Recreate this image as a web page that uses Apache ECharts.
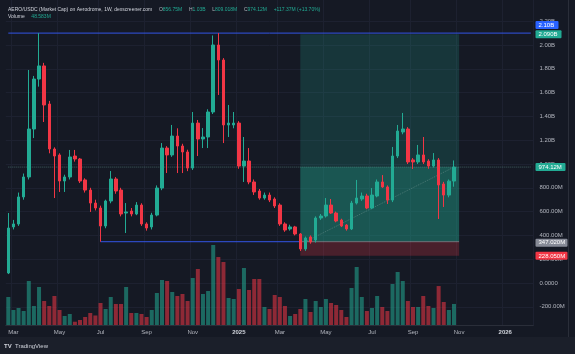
<!DOCTYPE html>
<html><head><meta charset="utf-8">
<script src="https://cdn.jsdelivr.net/npm/echarts@6/dist/echarts.min.js"></script>
<style>html,body{margin:0;padding:0;background:#151924;}#c{width:575px;height:354px;}</style>
</head><body><div id="c"></div>
<script>
// ---------- data (market cap in millions USD, weekly) ----------
const firstWeekUTC = Date.UTC(2024, 1, 26);
const weekCount = 103; // visible weekly slots incl. future space
const openVals = [84,471,496,723,891,1294,1714,1824,1504,1126,
  1076,857,891,1067,1042,866,781,672,630,479,
  689,874,781,588,605,580,655,496,471,571,
  798,1134,1076,1235,1151,1101,966,1344,1210,1227,
  1437,2000,1874,1328,1328,1344,983,1025,849,773,
  714,739,706,655,496,454,471,412,286,387,
  361,546,563,655,588,529,487,454,672,706,
  731,630,731,849,807,697,1067,1269,1294,1034,
  1017,1076,1025,983,1034,832,739,856.75];
const closeVals = [462,496,723,891,1294,1714,1824,1496,1126,1067,
  857,891,1059,1042,857,781,672,630,479,689,
  874,773,580,597,580,655,496,462,571,798,
  1134,1076,1235,1151,1101,966,1344,1210,1227,1437,
  2000,1874,1328,1344,1344,983,1025,849,765,714,
  739,697,647,496,445,471,412,286,378,345,
  546,563,655,588,521,479,454,672,714,731,
  630,739,849,807,697,1067,1277,1294,1017,1017,
  1076,1017,983,1034,824,739,856,974.12];
const highVals = [588,530,760,920,1790,1740,2100,1850,1530,1140,
  1090,910,1118,1118,1050,880,800,700,650,700,
  941,890,800,672,630,680,670,510,590,820,
  1176,1150,1328,1300,1170,1120,1437,1370,1302,1460,
  2080,2100,1890,1496,1437,1360,1227,1134,870,790,
  760,760,720,670,510,490,480,420,390,400,
  560,580,714,706,600,540,495,690,866,760,
  750,798,870,907,820,1143,1328,1429,1310,1050,
  1160,1227,1040,1092,1050,850,870,1030];
const lowVals = [75,450,480,700,870,1218,1650,1353,1090,714,
  765,765,870,1020,840,760,597,610,347.02,460,
  670,750,560,420,560,570,480,440,450,560,
  780,924,1060,924,924,940,950,1067,1134,1134,
  1420,1580,1176,1227,1300,960,849,830,740,700,
  700,680,630,480,430,440,400,269,270,330,
  340,530,550,580,510,470,440,445,660,690,
  620,620,720,800,664,680,1050,1250,1000,958,
  1000,1000,960,970,538,639,720,809.018];
const volumeVals = [64.7,34.7,39.3,32.3,101.6,43.9,87.8,55.4,43.9,67,
  34.7,20.8,25.4,7.6,11.6,18.5,27.7,22,50.8,37,
  64.7,48.5,48.5,87.8,27.7,27.7,25.4,18.5,34.7,73.9,
  104,101.6,76.2,67,71.6,55.4,108.6,129.4,71.6,78.5,
  184.8,157,145.5,62.4,60,83.2,131.7,80.9,106.3,106.3,
  41.6,37,69.3,64.7,43.9,20.8,25.4,37,60,30,
  55.4,41.6,60,50.8,46.2,34.7,18.5,85.5,134,64.7,
  32.3,39.3,67,41.6,32.3,94.7,122.4,101.6,55.4,41.6,
  41.6,67,43.9,39.3,90,53.1,34.7,48.583];
const tickDates = ['2024-03-04','2024-05-06','2024-07-01','2024-09-02','2024-11-04','2025-01-06',
  '2025-03-03','2025-05-05','2025-07-07','2025-09-01','2025-11-03','2026-01-05'];
const tickTexts = ['Mar','May','Jul','Sep','Nov','2025','Mar','May','Jul','Sep','Nov','2026'];
// drawings
const resistanceLevel = 2100;
const supportLevel = 347.02;
const supportStartIdx = 18;
const posEntry = 347.02, posTarget = 2090, posStop = 228.05;
const posStartIdx = 57, posEndIdx = 88, posLineStartIdx = 58;
const lastClose = 974.12;
// header
const headerTitle = 'AERO/USDC (Market Cap) on Aerodrome, 1W, dexscreener.com';
const ohlcLabels = ['O','H','L','C'];
const ohlcTexts = ['856.75M','1.03B','809.018M','974.12M'];
const changeText = '+117.37M (+13.70%)';
const volumeText = '48.583M';

// ---------- build ----------
const weeks = [];
for (let i = 0; i < weekCount; i++) weeks.push(new Date(firstWeekUTC + i*7*864e5).toISOString().slice(0,10));
const tickMap = {}; tickDates.forEach((d,i)=>tickMap[d]=tickTexts[i]);

const UP = '#22ab94', DOWN = '#f23645';
const BLUE = '#3355e6';
const candleData = openVals.map((o,i)=>[o, closeVals[i], lowVals[i], highVals[i]]);
const volData = volumeVals.map((v,i)=>({value:v, itemStyle:{color: closeVals[i] >= openVals[i] ? 'rgba(34,171,148,0.55)' : 'rgba(242,54,69,0.55)'}}));

function fmtPrice(v){
  if (v === 0) return '0.0000';
  if (Math.abs(v) >= 1000) return (v/1000).toFixed(2) + 'B';
  return v.toFixed(2) + 'M';
}
const FONT = 'Liberation Sans';
const GRIDC = '#1d2130';
function segment(name, color, type, i0, v0, i1, v1){
  return {type:'line', name:name, xAxisIndex:0, yAxisIndex:0, z:1, silent:true, showSymbol:false, symbol:'none',
    data:[[weeks[i0], v0], [weeks[i1], v1]], lineStyle:{color:color, width:1, type:type}, itemStyle:{color:color},
    emphasis:{disabled:true}};
}
const chart = echarts.init(document.getElementById('c'), null, {renderer:'canvas', width:575, height:354});
const gl = 5.74, gr = 41.6;
chart.setOption({
  backgroundColor: '#151924',
  animation: false,
  grid: [
    {left: gl, right: gr, top: -2.6, bottom: 23.4, outerBoundsMode:'none', containLabel:false},
    {left: gl, right: gr, top: 0, bottom: 29, outerBoundsMode:'none', containLabel:false}
  ],
  xAxis: [
    {type:'category', gridIndex:0, data: weeks, boundaryGap:true,
      axisLine:{show:false}, axisTick:{show:false}, axisLabel:{show:false}, splitLine:{show:false}},
    {type:'category', gridIndex:1, data: weeks, boundaryGap:true,
      axisLine:{show:true, lineStyle:{color:'#2a2e39'}}, axisTick:{show:false},
      splitLine:{show:true, interval:(idx,val)=>tickMap[val]!==undefined, lineStyle:{color:GRIDC, width:1}},
      axisLabel:{show:true, interval:(idx,val)=>tickMap[val]!==undefined, margin:4,
        formatter:(val)=>{const t = tickMap[val]; return /^\d{4}$/.test(t) ? '{y|'+t+'}' : t;},
        color:'#b2b5be', fontSize:6, fontFamily:FONT,
        rich:{y:{fontSize:6, fontWeight:'bold', color:'#d1d4dc', fontFamily:FONT}}}}
  ],
  yAxis: [
    {type:'value', gridIndex:0, position:'right', min:-400, max:2400, interval:200, scale:false,
      axisLine:{show:false}, axisTick:{show:false},
      axisLabel:{show:true, formatter:fmtPrice, color:'#b2b5be', fontSize:6, fontFamily:FONT, margin:6,
        showMinLabel:false, showMaxLabel:false},
      splitLine:{show:true, showMinLine:false, showMaxLine:false, lineStyle:{color:GRIDC, width:1}}},
    {type:'value', gridIndex:1, min:0, max:750.75, show:false, splitLine:{show:false}}
  ],
  series: [
    {type:'bar', name:'Volume', xAxisIndex:1, yAxisIndex:1, data: volData, barWidth:4, z:2, silent:true},
    {type:'line', name:'position', xAxisIndex:0, yAxisIndex:0, data: [], z:1, silent:true,
      markArea:{silent:true, data:[
        [{xAxis:weeks[posStartIdx], yAxis:lastClose, itemStyle:{color:'rgba(34,171,148,0.42)'}}, {xAxis:weeks[posEndIdx], yAxis:posEntry}],
        [{xAxis:weeks[posStartIdx], yAxis:posTarget, itemStyle:{color:'rgba(34,171,148,0.2)'}}, {xAxis:weeks[posEndIdx], yAxis:lastClose}],
        [{xAxis:weeks[posStartIdx], yAxis:posEntry, itemStyle:{color:'rgba(242,54,69,0.24)'}}, {xAxis:weeks[posEndIdx], yAxis:posStop}]
      ]}},
    segment('resistance', BLUE, 'solid', 0, resistanceLevel, weekCount-1, resistanceLevel),
    segment('support', BLUE, 'solid', supportStartIdx, supportLevel, posStartIdx, supportLevel),
    segment('priceLine', 'rgba(110,170,158,0.5)', 'dotted', 0, lastClose, weekCount-1, lastClose),
    segment('entryLine', 'rgba(190,165,180,0.5)', 'solid', posStartIdx, posEntry, posEndIdx, posEntry),
    segment('pnlLine', 'rgba(190,205,200,0.28)', 'dotted', posLineStartIdx, posEntry, openVals.length-1, lastClose),
    {type:'candlestick', name:'AERO', xAxisIndex:0, yAxisIndex:0, data: candleData, barWidth:3, z:3,
      itemStyle:{color:UP, color0:DOWN, borderColor:UP, borderColor0:DOWN, borderWidth:1}}
  ]
});

// ---------- overlay texts and price tags ----------
const yOf = v => chart.convertToPixel({yAxisIndex:0}, v);
function tag(val, text, bg, w, dy){
  const y = yOf(val) + (dy||0);
  return [
    {type:'rect', z:50, shape:{x:535.5, y:y-4, width:w, height:8, r:1}, style:{fill:bg}},
    {type:'text', z:51, style:{text:text, x:538.5, y:y, fill:'#ffffff', font:'6px "Liberation Sans"', align:'left', verticalAlign:'middle'}}
  ];
}
const ohlcRich = ohlcLabels.map((l,i)=>'{g|'+l+'}{v|'+ohlcTexts[i]+'}').join('  ');
const graphics = [
  {type:'rect', z:0, silent:true, shape:{x:0, y:337, width:575, height:17}, style:{fill:'#1b1f2a'}},
  {type:'line', z:0, silent:true, shape:{x1:568.5, y1:0, x2:568.5, y2:337}, style:{stroke:'#2a2e39', lineWidth:1}},
  {type:'text', z:60, style:{x:8, y:10, verticalAlign:'middle', align:'left',
    text:'{t|'+headerTitle+'}  '+ohlcRich+'  {v|'+changeText+'}',
    rich:{t:{fill:'#d1d4dc', font:'5px "Liberation Sans"'}, g:{fill:'#b2b5be', font:'5px "Liberation Sans"'}, v:{fill:UP, font:'5px "Liberation Sans"'}}}},
  {type:'text', z:60, style:{x:8, y:17, verticalAlign:'middle', align:'left',
    text:'{t|Volume}  {v|'+volumeText+'}',
    rich:{t:{fill:'#d1d4dc', font:'5px "Liberation Sans"'}, v:{fill:UP, font:'5px "Liberation Sans"'}}}},
  {type:'text', z:60, style:{x:4, y:346, verticalAlign:'middle', align:'left',
    text:'{b|TV} {t|TradingView}',
    rich:{b:{fill:'#d1d4dc', font:'bold 6px "Liberation Sans"'}, t:{fill:'#d1d4dc', font:'6px "Liberation Sans"'}}}}
];
[].concat(
  tag(resistanceLevel, fmtPrice(resistanceLevel), '#2962ff', 23, -8),
  tag(posTarget, (posTarget/1000).toFixed(3)+'B', '#22ab94', 26, 0),
  tag(lastClose, fmtPrice(lastClose), '#22ab94', 30, 0),
  tag(posEntry, posEntry.toFixed(3)+'M', '#868a96', 32, 1),
  tag(posStop, posStop.toFixed(3)+'M', '#f23645', 32, 0)
).forEach(g=>graphics.push(g));
chart.setOption({graphic: graphics});
</script></body></html>
